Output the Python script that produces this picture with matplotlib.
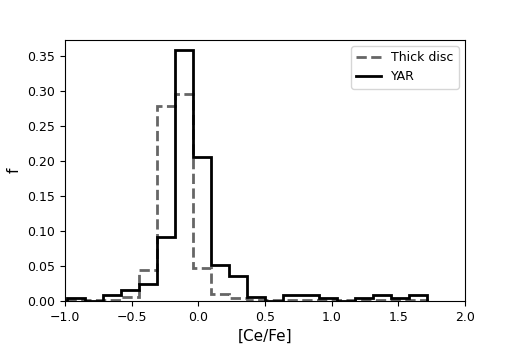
import numpy as np
import matplotlib
matplotlib.use("Agg")
import matplotlib.pyplot as plt
from matplotlib.lines import Line2D

bin_start = -0.983
bin_width = 0.1348
n_bins = 20
yar_f = [0.004, 0.0, 0.008, 0.016, 0.024, 0.092, 0.358, 0.205, 0.051, 0.035,
         0.006, 0.0, 0.008, 0.008, 0.004, 0.0, 0.004, 0.008, 0.004, 0.008]
thick_f = [0.002, 0.002, 0.002, 0.006, 0.044, 0.278, 0.295, 0.047, 0.010, 0.004,
           0.002, 0.001, 0.002, 0.002, 0.001, 0.001, 0.001, 0.002, 0.001, 0.002]

edges = bin_start + bin_width * np.arange(n_bins + 1)
centers = 0.5 * (edges[:-1] + edges[1:])

fig = plt.figure(figsize=(5.18, 3.45), dpi=100)
ax = fig.add_axes([65/518, 1 - 301/345, 400/518, 261/345])
ax.hist(centers, bins=edges, weights=thick_f, histtype='step', color='#666666',
        lw=2, ls='--')
ax.hist(centers, bins=edges, weights=yar_f, histtype='step', color='black',
        lw=2)
ax.set_xlim(-1.0, 2.0)
ax.set_ylim(0, 0.3725)
ax.set_yticks(np.arange(0, 0.36, 0.05))
ax.set_xlabel('[Ce/Fe]', fontsize=11)
ax.set_ylabel('f', fontsize=11)
ax.tick_params(labelsize=9)
handles = [Line2D([], [], color='#666666', lw=2, ls='--'),
           Line2D([], [], color='black', lw=2)]
ax.legend(handles, ['Thick disc', 'YAR'], loc='upper right', fontsize=9)
fig.savefig('out.png', dpi=100)
